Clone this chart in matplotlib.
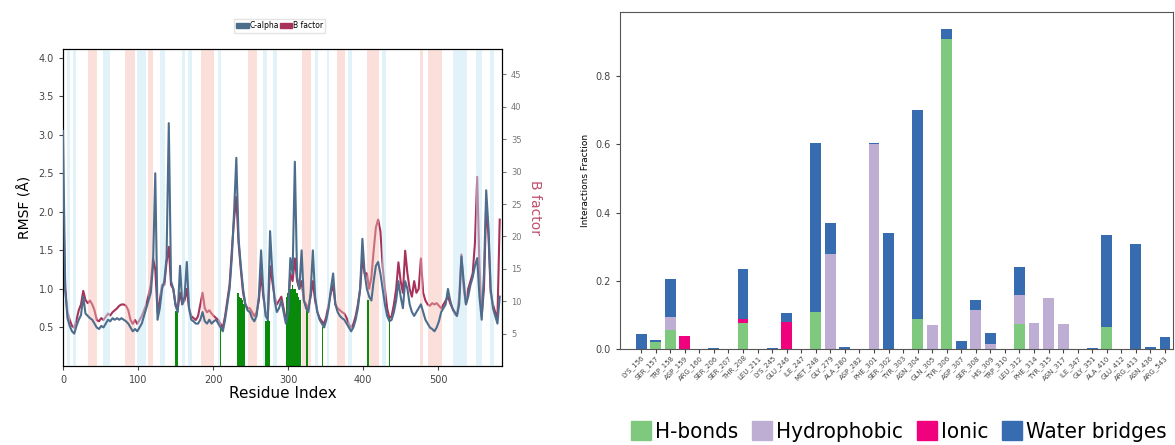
import numpy as np
import matplotlib
matplotlib.use("Agg")
import matplotlib.pyplot as plt
from matplotlib.patches import Patch

# ---------------- left panel data ----------------
residue_index = np.arange(0, 585, 3)

ca_rmsf = [
    3.05, 1.0, 0.62, 0.52, 0.45, 0.42, 0.52, 0.6, 0.66, 0.9, 0.68, 0.65, 0.62, 0.6, 0.55,
    0.5, 0.48, 0.52, 0.5, 0.55, 0.6, 0.58, 0.62, 0.6, 0.62, 0.6, 0.62, 0.6, 0.58, 0.55,
    0.5, 0.45, 0.48, 0.45, 0.5, 0.55, 0.65, 0.75, 0.85, 0.95, 1.3, 2.5, 0.6, 0.75, 1.0,
    1.1, 1.4, 3.15, 1.1, 1.0, 0.78, 0.7, 1.3, 0.8, 0.9, 1.35, 0.75, 0.6, 0.58, 0.55,
    0.55, 0.6, 0.7, 0.58, 0.55, 0.6, 0.55, 0.58, 0.6, 0.55, 0.5, 0.45, 0.6, 0.8, 1.0,
    1.4, 2.0, 2.7, 1.65, 1.3, 1.0, 0.8, 0.72, 0.7, 0.62, 0.58, 0.65, 0.9, 1.5, 0.95,
    0.65, 0.6, 1.75, 1.2, 0.85, 0.7, 0.75, 0.85, 0.7, 0.55, 0.7, 1.4, 1.2, 2.65, 1.15,
    1.0, 1.5, 0.85, 0.75, 0.7, 0.95, 1.5, 0.9, 0.7, 0.6, 0.55, 0.5, 0.6, 0.75, 1.0,
    1.2, 0.8, 0.7, 0.65, 0.62, 0.6, 0.55, 0.5, 0.45, 0.5, 0.6, 0.75, 1.0, 1.65, 1.2,
    1.0, 0.9, 0.85, 1.1, 1.3, 1.35, 1.2, 1.0, 0.8, 0.65, 0.58, 0.6, 0.7, 0.85, 1.1,
    0.9, 0.75, 1.1, 1.0, 0.8, 0.7, 0.65, 0.7, 0.75, 0.8, 0.7, 0.6, 0.55, 0.5, 0.48,
    0.45, 0.5, 0.58, 0.7, 0.75, 0.8, 1.0, 0.85, 0.75, 0.7, 0.65, 0.8, 1.42, 1.1, 0.8,
    0.9, 1.05, 1.15, 1.3, 1.4, 0.9, 0.6, 1.2, 2.28, 1.8, 1.0, 0.75, 0.65, 0.55, 0.9,
]

b_factor = [
    26.1, 11.9, 8.3, 7.1, 6.2, 5.9, 7.1, 8.6, 9.5, 11.6, 10.2, 9.7, 10.1, 9.5, 8.6,
    7.1, 6.9, 7.4, 7.1, 7.6, 8.1, 7.8, 8.3, 8.6, 8.9, 9.3, 9.5, 9.5, 9.3, 8.6,
    7.1, 6.5, 7.1, 6.5, 7.1, 7.7, 8.6, 9.5, 10.9, 12.5, 16.6, 14.9, 8.3, 10.1, 12.5,
    12.5, 16.0, 18.4, 12.5, 11.9, 9.5, 8.9, 11.3, 9.5, 10.1, 11.9, 8.9, 7.7, 7.4, 7.1,
    7.7, 9.5, 11.3, 8.9, 8.3, 8.6, 8.1, 7.7, 7.4, 7.1, 6.5, 5.9, 7.7, 10.1, 12.5,
    17.8, 22.6, 26.1, 19.0, 14.9, 11.3, 9.5, 8.9, 8.9, 8.3, 7.7, 8.3, 10.1, 14.3, 10.7,
    8.3, 7.7, 15.4, 13.1, 10.7, 9.5, 10.1, 10.7, 8.9, 7.1, 8.6, 14.3, 13.1, 16.6, 13.1,
    11.9, 13.1, 10.1, 9.5, 8.9, 10.7, 13.1, 10.1, 8.3, 7.4, 6.9, 6.5, 7.7, 9.5, 11.3,
    12.5, 9.5, 8.9, 8.6, 8.3, 8.1, 7.4, 6.5, 5.9, 6.5, 7.7, 9.5, 11.9, 16.6, 14.3,
    14.3, 11.9, 13.7, 17.8, 21.4, 22.6, 20.8, 15.4, 11.9, 8.9, 7.4, 7.7, 9.5, 11.9, 16.0,
    13.1, 11.3, 17.8, 14.3, 11.9, 10.7, 13.1, 11.3, 11.9, 16.6, 11.3, 10.1, 9.5, 9.3, 9.7,
    9.5, 9.7, 9.3, 8.9, 9.5, 10.1, 10.7, 9.7, 8.9, 8.1, 7.7, 10.7, 17.2, 11.9, 9.5,
    11.9, 13.1, 14.3, 19.0, 29.2, 15.4, 7.7, 11.9, 24.9, 20.2, 11.3, 9.5, 8.3, 7.4, 22.6,
]

# ligand contact residues (green bars) and their heights
contact_res = [150, 152, 210, 233, 235, 237, 239, 241, 271, 273, 275, 298, 300, 302,
               304, 306, 308, 310, 312, 314, 316, 325, 346, 406, 435]
contact_h = [0.72, 0.72, 0.5, 0.95, 0.9, 0.88, 0.85, 0.8, 0.58, 0.6, 0.58, 0.9, 0.95, 1.0,
             1.0, 1.05, 1.0, 1.0, 0.95, 0.9, 0.85, 0.75, 0.5, 0.85, 0.63]

helix_spans = [(33, 46), (82, 96), (113, 120), (184, 201), (246, 259), (318, 331),
               (365, 376), (405, 421), (476, 480), (486, 505)]
strand_spans = [(6, 10), (14, 18), (53, 62), (98, 111), (129, 136), (158, 162), (167, 172),
                (206, 211), (267, 272), (280, 285), (336, 340), (352, 355), (380, 385),
                (425, 431), (520, 538), (551, 559), (569, 575)]

# ---------------- right panel data ----------------
residues = ["LYS_156", "SER_157", "TRP_158", "ASP_159", "ARG_160", "SER_206", "SER_207",
            "THR_208", "LEU_211", "LYS_245", "GLU_246", "ILE_247", "MET_248", "GLY_279",
            "ALA_280", "ASP_282", "PHE_301", "SER_302", "TYR_303", "ASN_304", "GLN_305",
            "TYR_306", "ASP_307", "SER_308", "HIS_309", "TRP_310", "LEU_312", "PHE_314",
            "TYR_315", "ASN_317", "ILE_347", "GLY_351", "ALA_410", "GLU_412", "ARG_413",
            "ASN_436", "ARG_543"]
hbonds = [0, 0.02, 0.055, 0, 0, 0, 0, 0.077, 0, 0, 0, 0, 0.109, 0, 0, 0, 0, 0, 0,
          0.087, 0, 0.91, 0, 0, 0, 0, 0.073, 0, 0, 0, 0, 0, 0.065, 0, 0, 0, 0]
hydrophobic = [0, 0, 0.04, 0, 0, 0, 0, 0, 0, 0, 0, 0, 0, 0.28, 0, 0, 0.6, 0, 0,
               0, 0.07, 0, 0, 0.115, 0.015, 0, 0.085, 0.075, 0.151, 0.073, 0, 0, 0, 0, 0, 0, 0]
ionic = [0, 0, 0, 0.038, 0, 0, 0, 0.01, 0, 0, 0.08, 0, 0, 0, 0, 0, 0, 0, 0,
         0, 0, 0, 0, 0, 0, 0, 0, 0, 0, 0, 0, 0, 0, 0, 0, 0, 0]
water = [0.043, 0.005, 0.11, 0, 0, 0.003, 0, 0.149, 0, 0.003, 0.027, 0, 0.496, 0.09, 0.006, 0, 0.003, 0.34, 0,
         0.613, 0, 0.029, 0.024, 0.028, 0.033, 0, 0.083, 0, 0, 0, 0, 0.004, 0.269, 0, 0.307, 0.006, 0.036]

ca_color = "#4d6d8d"
bf_color = "#a8325a"
c_hb, c_hp, c_io, c_wb = "#7fc97f", "#beaed4", "#f0027f", "#386cb0"

fig = plt.figure(figsize=(11.75, 4.45), dpi=100)

# ---------------- left: RMSF / B factor ----------------
ax = fig.add_axes([0.0536, 0.1775, 0.3736, 0.712])
for a, b in helix_spans:
    ax.axvspan(a, b, color="#f6b8ad", alpha=0.45, lw=0, zorder=0)
for a, b in strand_spans:
    ax.axvspan(a, b, color="#c6e6f4", alpha=0.5, lw=0, zorder=0)
ax.bar(contact_res, contact_h, width=2.3, color="#0a8a0a", lw=0, zorder=1)
ax.plot(residue_index, ca_rmsf, color=ca_color, lw=1.5, zorder=3)
ax.set_xlim(0, 585)
ax.set_ylim(0, 4.11)
ax.set_yticks(np.arange(0.5, 4.01, 0.5))
ax.set_xticks(np.arange(0, 501, 100))
ax.tick_params(labelsize=7, colors="#444444", length=3)
ax.set_xlabel("Residue Index", fontsize=11, labelpad=1)
ax.set_ylabel("RMSF (Å)", fontsize=10, labelpad=4)

ax2 = ax.twinx()
ax2.plot(residue_index, b_factor, color=bf_color, lw=1.5, zorder=2)
ax2.set_ylim(0, 48.9)
ax2.set_yticks(np.arange(5, 46, 5))
ax2.tick_params(labelsize=6, colors="#777777", length=3)
ax2.set_ylabel("B factor", fontsize=10, color="#c0506f", rotation=270, labelpad=15)
ax.set_zorder(ax2.get_zorder() + 1)
ax.patch.set_visible(False)

fig.legend(handles=[Patch(color=ca_color, label="C-alpha"), Patch(color=bf_color, label="B factor")],
           loc="center", bbox_to_anchor=(0.238, 0.942), ncol=2, fontsize=5.5,
           handlelength=1.6, handletextpad=0.1, columnspacing=0.1, borderpad=0.3,
           fancybox=False, edgecolor="#dddddd")

# ---------------- right: interaction fractions ----------------
bx = fig.add_axes([0.5277, 0.2157, 0.4706, 0.757])
x = np.arange(len(residues))
hb = np.array(hbonds)
hp = np.array(hydrophobic)
io = np.array(ionic)
wb = np.array(water)
bx.bar(x, hb, width=0.75, color=c_hb, lw=0)
bx.bar(x, hp, width=0.75, bottom=hb, color=c_hp, lw=0)
bx.bar(x, io, width=0.75, bottom=hb + hp, color=c_io, lw=0)
bx.bar(x, wb, width=0.75, bottom=hb + hp + io, color=c_wb, lw=0)
bx.set_xlim(-1.45, len(residues) - 0.45)
bx.set_ylim(0, 0.988)
bx.set_xticks(x)
bx.set_xticklabels(residues, rotation=45, ha="right", fontsize=5, rotation_mode="anchor")
bx.set_yticks([0.0, 0.2, 0.4, 0.6, 0.8])
bx.tick_params(axis="y", labelsize=7, colors="#444444", length=3)
bx.tick_params(axis="x", length=3, colors="#444444", pad=1)
bx.set_ylabel("Interactions Fraction", fontsize=6.5)
for sp in bx.spines.values():
    sp.set_color("#555555")

fig.legend(handles=[Patch(color=c_hb, label="H-bonds"), Patch(color=c_hp, label="Hydrophobic"),
                    Patch(color=c_io, label="Ionic"), Patch(color=c_wb, label="Water bridges")],
           loc="center", bbox_to_anchor=(0.765, 0.03), ncol=4, frameon=False,
           prop={"size": 16, "stretch": "condensed"},
           handlelength=0.9, handleheight=0.9, handletextpad=0.2, columnspacing=0.6)

fig.savefig("out.png", dpi=100)
